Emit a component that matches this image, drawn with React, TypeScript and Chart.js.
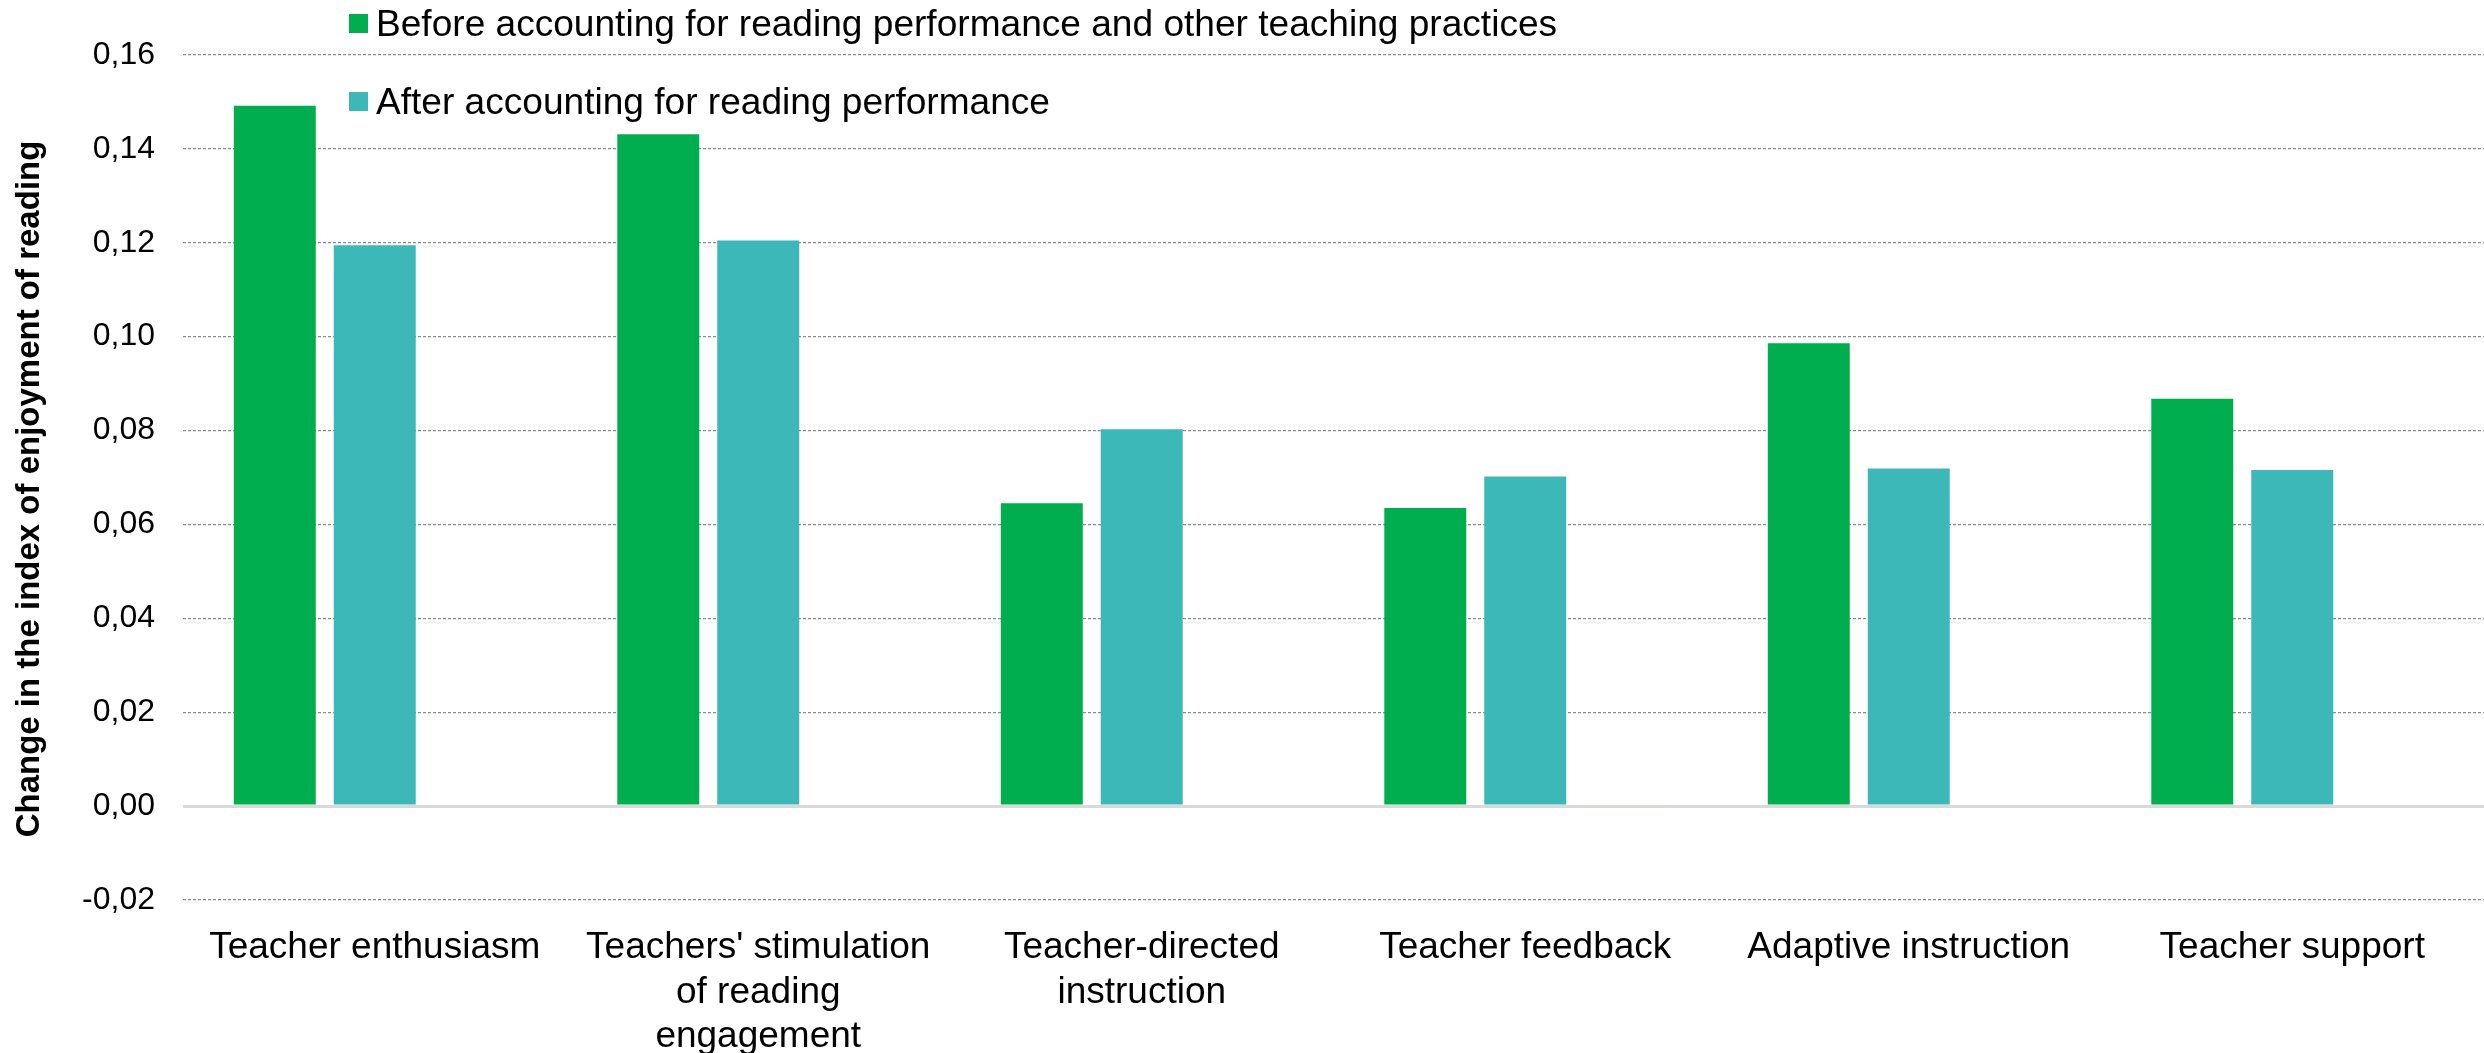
import React, { useEffect, useRef } from 'react';
import { Chart, registerables } from 'chart.js';

Chart.register(...registerables);

const FONT = '"Liberation Sans", Arial, Helvetica, sans-serif';

const categories: (string | string[])[] = [
  'Teacher enthusiasm',
  ["Teachers' stimulation", 'of reading', 'engagement'],
  ['Teacher-directed', 'instruction'],
  'Teacher feedback',
  'Adaptive instruction',
  'Teacher support',
];

const beforeLabel = 'Before accounting for reading performance and other teaching practices';
const afterLabel = 'After accounting for reading performance';
const thirdLabel = '';

const beforeValues = [0.1492, 0.1431, 0.0645, 0.0635, 0.0986, 0.0868];
const afterValues = [0.1195, 0.1205, 0.0803, 0.0702, 0.0719, 0.0716];
const thirdValues = [0, 0, 0, -0.0004, 0, 0];

const yMin = -0.02;
const yMax = 0.16;
const yStep = 0.02;
const yTitle = 'Change in the index of enjoyment of reading';

const GREEN = '#00AE50';
const TEAL = '#3DB8B9';
const TAN = '#E3D3A4';

const isZero = (ctx: any) => ctx && ctx.tick && Math.abs(ctx.tick.value) < 1e-9;

const legendPlugin = {
  id: 'insideLegend',
  afterDraw(chart: any) {
    const ctx = chart.ctx as CanvasRenderingContext2D;
    const left = chart.chartArea.left;
    const rows = [
      { di: 0, top: 14 },
      { di: 1, top: 92 },
    ];
    rows.forEach(({ di, top }) => {
      const ds = chart.data.datasets[di];
      ctx.save();
      ctx.fillStyle = ds.backgroundColor as string;
      ctx.fillRect(left + 166, top, 19, 19);
      ctx.translate(left + 193, top + 22);
      ctx.scale(1.03, 1);
      ctx.font = `36px ${FONT}`;
      ctx.fillStyle = '#000';
      ctx.textBaseline = 'alphabetic';
      ctx.textAlign = 'left';
      ctx.fillText(ds.label, 0, 0);
      ctx.restore();
    });
  },
};

const yTitlePlugin = {
  id: 'yTitle',
  afterDraw(chart: any) {
    const ctx = chart.ctx as CanvasRenderingContext2D;
    ctx.save();
    ctx.translate(30, 489);
    ctx.rotate(-Math.PI / 2);
    ctx.font = `bold 33px ${FONT}`;
    ctx.fillStyle = '#000';
    ctx.textAlign = 'center';
    ctx.textBaseline = 'middle';
    ctx.fillText(yTitle, 0, 0);
    ctx.restore();
  },
};

export default function App() {
  const canvasRef = useRef<HTMLCanvasElement | null>(null);

  useEffect(() => {
    if (!canvasRef.current) return;
    const chart = new Chart(canvasRef.current, {
      type: 'bar',
      data: {
        labels: categories as any,
        datasets: [
          {
            label: beforeLabel,
            data: beforeValues,
            backgroundColor: GREEN,
            categoryPercentage: 0.782,
            barPercentage: 0.82,
          },
          {
            label: afterLabel,
            data: afterValues,
            backgroundColor: TEAL,
            categoryPercentage: 0.782,
            barPercentage: 0.82,
          },
          {
            label: thirdLabel,
            data: thirdValues,
            backgroundColor: TAN,
            categoryPercentage: 0.782,
            barPercentage: 0.82,
          },
        ],
      },
      options: {
        animation: false,
        responsive: false,
        maintainAspectRatio: false,
        layout: { padding: { top: 55, left: 0, right: 0, bottom: 0 } },
        plugins: {
          legend: { display: false },
          tooltip: { enabled: false },
        },
        scales: {
          x: {
            grid: { display: false, drawTicks: false },
            border: { display: false },
            ticks: {
              color: '#000',
              font: { family: FONT, size: 37 },
              padding: 26,
              maxRotation: 0,
              autoSkip: false,
            },
            afterFit: (s: any) => {
              s.height = 153;
            },
          },
          y: {
            min: yMin,
            max: yMax,
            ticks: {
              stepSize: yStep,
              padding: 28,
              color: '#000',
              font: { family: FONT, size: 32 },
              callback: (v: any) => Number(v).toFixed(2).replace('.', ','),
            },
            grid: {
              drawTicks: false,
              color: (ctx: any) => (isZero(ctx) ? '#D9D9D9' : '#8C8C8C'),
              lineWidth: (ctx: any) => (isZero(ctx) ? 3 : 1.3),
            },
            border: {
              display: false,
              dash: (ctx: any) => (isZero(ctx) ? [] : [3, 2]),
            },
            title: { display: false },
            afterFit: (s: any) => {
              s.width = 183;
            },
          },
        },
      },
      plugins: [legendPlugin, yTitlePlugin],
    } as any);
    return () => chart.destroy();
  }, []);

  return (
    <div style={{ position: 'absolute', left: 0, top: 0, width: 2484, height: 1053, background: '#fff' }}>
      <canvas ref={canvasRef} width={2484} height={1053} style={{ width: 2484, height: 1053, display: 'block' }} />
    </div>
  );
}
